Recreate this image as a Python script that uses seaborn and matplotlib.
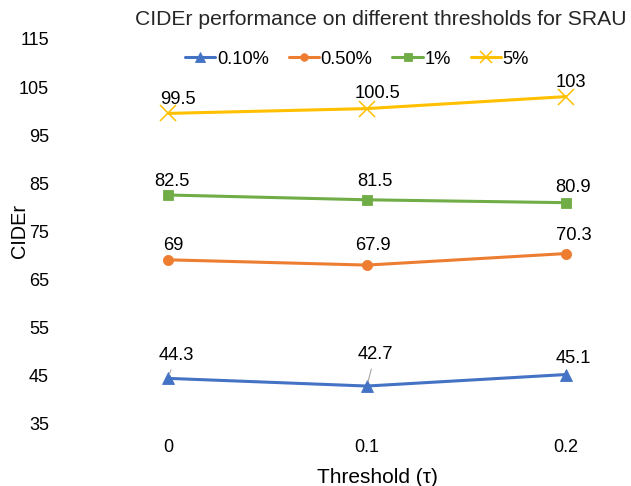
import numpy as np
import pandas as pd
import seaborn as sns
import matplotlib.pyplot as plt

# data
thresholds = ["0", "0.1", "0.2"]
series_names = ["0.10%", "0.50%", "1%", "5%"]
cider_010 = [44.3, 42.7, 45.1]
cider_050 = [69, 67.9, 70.3]
cider_1 = [82.5, 81.5, 80.9]
cider_5 = [99.5, 100.5, 103]
y_ticks = [35, 45, 55, 65, 75, 85, 95, 105, 115]

sns.set_style("white")
plt.rcParams['font.family'] = ['Liberation Sans', 'DejaVu Sans']
plt.rcParams['text.color'] = 'black'
plt.rcParams['axes.labelcolor'] = 'black'
plt.rcParams['xtick.color'] = 'black'
plt.rcParams['ytick.color'] = 'black'

vals = {"0.10%": cider_010, "0.50%": cider_050, "1%": cider_1, "5%": cider_5}
colors = {"0.10%": "#4472C4", "0.50%": "#ED7D31", "1%": "#70AD47", "5%": "#FFC000"}
markers = {"0.10%": "^", "0.50%": "o", "1%": "s", "5%": "x"}
msize = {"0.10%": 9.0, "0.50%": 7.3, "1%": 7.6, "5%": 12}
mew = {"0.10%": 0.6, "0.50%": 0.6, "1%": 0.6, "5%": 1.1}

fig = plt.figure(figsize=(6.31, 4.86), dpi=100)
ax = fig.add_axes([60 / 631, 63 / 486, 560 / 631, 384 / 486])

# one lineplot per series (seaborn won't mix filled and line markers)
for s in series_names:
    d = pd.DataFrame({"x": range(len(thresholds)), "CIDEr": vals[s]})
    sns.lineplot(data=d, x="x", y="CIDEr", color=colors[s], marker=markers[s],
                 linewidth=2.2, markersize=msize[s], markeredgewidth=mew[s],
                 markeredgecolor=colors[s], ax=ax)

# data label offsets, pixels (right, baseline above point)
offsets = {
    "0.10%": [(8, 18.4), (8, 27), (7.5, 11.5)],
    "0.50%": [(5, 9.4), (5.5, 15), (7.5, 13.6)],
    "1%": [(3.5, 9.3), (8, 14), (7.5, 10.7)],
    "5%": [(9.5, 9), (11, 10.3), (5, 10)],
}
px = 0.72
for s in series_names:
    for i, v in enumerate(vals[s]):
        dx, dy = offsets[s][i]
        lead = s == "0.10%" and i < 2
        ax.annotate(f"{v:g}", (i, v), xytext=(dx * px, dy * px), textcoords="offset points",
                    ha="center", va="baseline", fontsize=13.2, color="#000000",
                    arrowprops=dict(arrowstyle="-", color="#A6A6A6", lw=0.8,
                                    shrinkA=2, shrinkB=3) if lead else None)

ax.set_xlim(-108 / 199, 2 + 54 / 199)
ax.set_ylim(35, 115)
ax.set_yticks(y_ticks)
ax.set_xticks(range(len(thresholds)))
ax.set_xticklabels(thresholds)
ax.tick_params(axis="y", length=0, pad=7.9, labelsize=13)
ax.tick_params(axis="x", length=0, pad=20.9, labelsize=13)
for t in ax.get_xticklabels():
    t.set_va("baseline")
for sp in ax.spines.values():
    sp.set_visible(False)

ax.set_xlabel("Threshold (τ)", fontsize=15, va="baseline")
ax.xaxis.set_label_coords((377 - 60) / 560, (423 - 483) / 384)
ax.set_ylabel("CIDEr", fontsize=14.3, va="baseline")
ax.yaxis.set_label_coords((25 - 60) / 560, 0.5)

fig.text(381 / 631, (486 - 25) / 486, "CIDEr performance on different thresholds for SRAU",
         ha="center", va="baseline", fontsize=15.2, color="#262626")

handles = [plt.Line2D([], [], color=colors[s], marker=markers[s], lw=2.2,
                      markersize=msize[s] * 0.75, markeredgewidth=mew[s],
                      markeredgecolor=colors[s]) for s in series_names]
fig.legend(handles, series_names, loc="center", bbox_to_anchor=(357 / 631, (486 - 59) / 486),
           ncol=4, frameon=False, fontsize=13.2, handlelength=1.64,
           handletextpad=0.1, columnspacing=1.09)

fig.savefig("out.png", dpi=100)
